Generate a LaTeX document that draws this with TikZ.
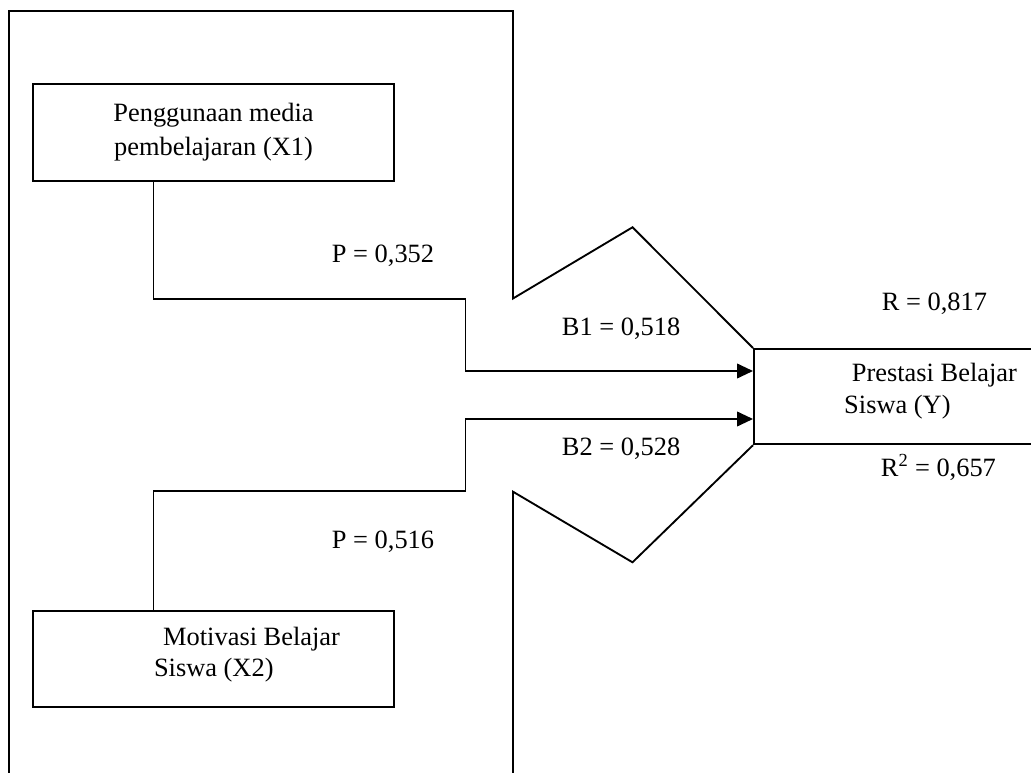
\documentclass[tikz,border=0pt]{standalone}
\usepackage{fontspec}
\setmainfont{Liberation Serif}
\usetikzlibrary{arrows.meta}

\begin{document}
\begin{tikzpicture}[x=0.75pt,y=-0.75pt,line width=1.4pt,
    box/.style={draw,rectangle,inner sep=0pt,minimum width=270.75pt,minimum height=72.3pt},
    lbl/.style={inner sep=0pt,font=\fontsize{19.8}{24}\selectfont},
    link/.style={-{Triangle[length=12pt,width=11pt]}}]
    \clip (0,0) rectangle (1031,773);

    \node[box] (X1) at (213.3,132.5) {};
    \node[box] (X2) at (213.3,659.2) {};
    \node[box,anchor=west,minimum width=225pt,minimum height=71.5pt] (Y) at (753,396.6) {};

    \draw (9,773) -- (9,11) -- (513,11) -- (513,298.5) -- (632.5,227.3) -- (Y.north west);
    \draw (Y.south west) -- (632.5,562.3) -- (513,491.7) -- (513,773);

    \coordinate (k1) at (153.5,298.7);
    \coordinate (k2) at (465.5,298.7);
    \coordinate (k3) at (465.5,371);
    \draw[link] (X1.south -| k1) -- (k1) -- (k2) -- (k3) -- (Y.west |- k3);

    \coordinate (m1) at (153.5,491.3);
    \coordinate (m2) at (465.5,491.3);
    \coordinate (m3) at (465.5,419);
    \draw[link] (X2.north -| m1) -- (m1) -- (m2) -- (m3) -- (Y.west |- m3);

    \node[lbl,anchor=base] (t1a) at (213.5,121.7) {Penggunaan media};
    \node[lbl,anchor=base] (t1b) at (213.5,155.7) {pembelajaran (X1)};
    \node[lbl,anchor=base west] (t2a) at (162.3,645) {Motivasi Belajar};
    \node[lbl,anchor=base west] (t2b) at (153.1,676) {Siswa (X2)};
    \node[lbl,anchor=base west] (tya) at (851,381.7) {Prestasi Belajar};
    \node[lbl,anchor=base west] (tyb) at (843.3,413) {Siswa (Y)};

    \node[lbl,anchor=base west] (p1) at (331,262.3) {P = 0,352};
    \node[lbl,anchor=base west] (p2) at (331,548.3) {P = 0,516};
    \node[lbl,anchor=base west] (b1) at (561,335) {B1 = 0,518};
    \node[lbl,anchor=base west] (b2) at (561,455) {B2 = 0,528};
    \node[lbl,anchor=base west] (r1) at (881,311) {R = 0,817};
    \node[lbl,anchor=base west] (r2) at (880,476.7) {R\textsuperscript{2} = 0,657};
\end{tikzpicture}
\end{document}
